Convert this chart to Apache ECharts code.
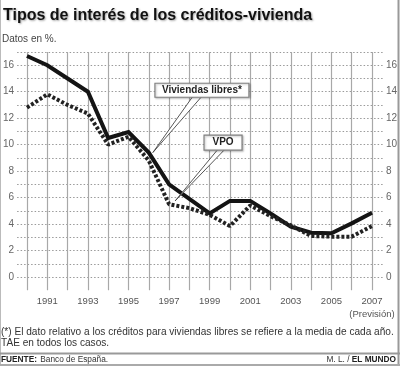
<!DOCTYPE html>
<html>
<head>
<meta charset="utf-8">
<script src="https://cdn.jsdelivr.net/npm/echarts@6/dist/echarts.min.js"></script>
<style>
html,body{margin:0;padding:0;background:#fff;}
#c{width:400px;height:366px;}
</style>
</head>
<body>
<div id="c"></div>
<script>
// ---- data ----
var years = [1990,1991,1992,1993,1994,1995,1996,1997,1998,1999,2000,2001,2002,2003,2004,2005,2006,2007];
var libres = [16.7,16.0,15.0,14.0,10.5,10.95,9.4,7.0,5.9,4.8,5.75,5.75,4.8,3.8,3.35,3.3,4.05,4.85];
var vpo = [12.8,13.8,13.0,12.35,10.0,10.6,8.8,5.5,5.2,4.7,3.85,5.4,4.6,3.9,3.1,3.05,3.05,3.85];
var yTickLabels = [0,2,4,6,8,10,12,14,16];
var seriesNames = ['Viviendas libres*','VPO'];
var titleText = 'Tipos de interés de los créditos-vivienda';
var subText = 'Datos en %.';
var noteLines = ['(*) El dato relativo a los créditos para viviendas libres se refiere a la media de cada año.','TAE en todos los casos.'];
var forecastLabel = '(Previsión)';

var FONT = '"Liberation Sans", Arial, sans-serif';
var chart = echarts.init(document.getElementById('c'), null, {renderer:'canvas'});

function pair(xs, ys){ return xs.map(function(x,i){return [x, ys[i]];}); }
var gridTop = 52, zeroY = 277;
var unit = (zeroY - gridTop) / 17;

var option = {
  animation:false,
  backgroundColor:'#fff',
  textStyle:{fontFamily:FONT},
  grid:[
    {left:17, right:17, top:gridTop, bottom:366-zeroY},
    {left:27, right:28, top:gridTop, bottom:366-(zeroY+unit)}
  ],
  xAxis:[
    {gridIndex:0, type:'value', min:0, max:1, show:false},
    {gridIndex:1, type:'value', min:1990, max:2007, interval:1,
      axisLine:{show:false}, axisTick:{show:false},
      splitLine:{show:true, lineStyle:{color:'#a8a8a8', width:1.2}},
      axisLabel:{margin:5, fontSize:9.5, color:'#555', fontFamily:FONT, lineHeight:13,
        formatter:function(v){
          if (v === 2007) return '2007\n{p|' + forecastLabel + '}';
          return (v % 2 === 1) ? String(v) : '';
        },
        rich:{p:{fontSize:9.5, color:'#555', fontFamily:FONT, lineHeight:13}}
      }
    }
  ],
  yAxis:[
    {gridIndex:0, type:'value', min:0, max:17, interval:1, position:'left',
      axisLine:{show:false}, axisTick:{show:false},
      splitLine:{show:true, lineStyle:{color:'#9a9a9a', width:1, type:[1.5,2]}},
      axisLabel:{margin:3, fontSize:10, color:'#666', fontFamily:FONT,
        formatter:function(v){ return yTickLabels.indexOf(v) >= 0 ? String(v) : ''; }}
    },
    {gridIndex:0, type:'value', min:0, max:17, interval:1, position:'right',
      axisLine:{show:false}, axisTick:{show:false}, splitLine:{show:false},
      axisLabel:{margin:3, fontSize:10, color:'#666', fontFamily:FONT,
        formatter:function(v){ return yTickLabels.indexOf(v) >= 0 ? String(v) : ''; }}
    },
    {gridIndex:1, type:'value', min:-1, max:17, interval:1, show:false}
  ],
  series:[
    {name:seriesNames[0], type:'line', xAxisIndex:1, yAxisIndex:2, data:pair(years, libres),
      symbol:'none', lineStyle:{color:'#141414', width:4, join:'miter'}, z:3},
    {name:seriesNames[1], type:'line', xAxisIndex:1, yAxisIndex:2, data:pair(years, vpo),
      symbol:'none', lineStyle:{color:'#222', width:4, type:[3,2], cap:'butt'}, z:4}
  ]
};
chart.setOption(option);

function px(x, y){ return chart.convertToPixel({xAxisIndex:1, yAxisIndex:2}, [x, y]); }

function callout(label, boxCenter, w, h, wedgeOff, target){
  var c = px(boxCenter[0], boxCenter[1]);
  var t = px(target[0], target[1]);
  var bottom = c[1] + h/2;
  return [
    {type:'polygon', z:10, shape:{points:[[c[0]+wedgeOff[0], bottom-1],[c[0]+wedgeOff[1], bottom-1],[t[0], t[1]]]},
      style:{fill:'#fff', stroke:'#444', lineWidth:0.9}},
    {type:'rect', z:11, shape:{x:c[0]-w/2, y:c[1]-h/2, width:w, height:h},
      style:{fill:'#fff', stroke:'#808080', lineWidth:1.2, shadowColor:'rgba(0,0,0,0.25)', shadowBlur:2, shadowOffsetX:1, shadowOffsetY:1}},
    {type:'text', z:12, x:c[0], y:c[1], style:{text:label, fontFamily:FONT, fontSize:10, fontWeight:'bold', fill:'#222', align:'center', verticalAlign:'middle'}}
  ];
}

var g = [];
// frame
g.push({type:'line', shape:{x1:0.5, y1:0, x2:0.5, y2:366}, style:{stroke:'#bbb', lineWidth:1}});
g.push({type:'line', shape:{x1:398.5, y1:0, x2:398.5, y2:366}, style:{stroke:'#999', lineWidth:2}});
g.push({type:'line', shape:{x1:0, y1:365, x2:400, y2:365}, style:{stroke:'#aaa', lineWidth:2}});
g.push({type:'line', shape:{x1:0, y1:353.5, x2:400, y2:353.5}, style:{stroke:'#999', lineWidth:2}});
// title
g.push({type:'text', x:3, y:16, style:{text:titleText, fontFamily:FONT, fontSize:16, fontWeight:'bold', fill:'#111', verticalAlign:'middle',
  textShadowColor:'rgba(0,0,0,0.35)', textShadowBlur:2, textShadowOffsetX:1, textShadowOffsetY:1}});
g.push({type:'text', x:2, y:39, style:{text:subText, fontFamily:FONT, fontSize:10, fill:'#444', verticalAlign:'middle'}});
// notes
g.push({type:'text', x:1, y:332, style:{text:noteLines[0], fontFamily:FONT, fontSize:10.1, fill:'#333', verticalAlign:'middle'}});
g.push({type:'text', x:1, y:343.5, style:{text:noteLines[1], fontFamily:FONT, fontSize:10.1, fill:'#333', verticalAlign:'middle'}});
// source
g.push({type:'text', x:1, y:360, style:{rich:{b:{fontWeight:'bold', fontSize:8.3, fontFamily:FONT, fill:'#222'}, n:{fontSize:8.3, fontFamily:FONT, fill:'#333'}},
  text:'{b|FUENTE:} {n|Banco de España.}', verticalAlign:'middle'}});
g.push({type:'text', x:396, y:360, style:{rich:{b:{fontWeight:'bold', fontSize:8.3, fontFamily:FONT, fill:'#222'}, n:{fontSize:8.3, fontFamily:FONT, fill:'#333'}},
  text:'{n|M. L. / }{b|EL MUNDO}', align:'right', verticalAlign:'middle'}});
// callouts
g = g.concat(callout(seriesNames[0], [1998.62, 14.11], 94, 14, [-9, 0], [1996.2, 9.4]));
g = g.concat(callout(seriesNames[1], [1999.66, 10.15], 38, 15, [-5, 2], [1997.3, 5.75]));

chart.setOption({graphic:{elements:g}});
</script>
</body>
</html>
